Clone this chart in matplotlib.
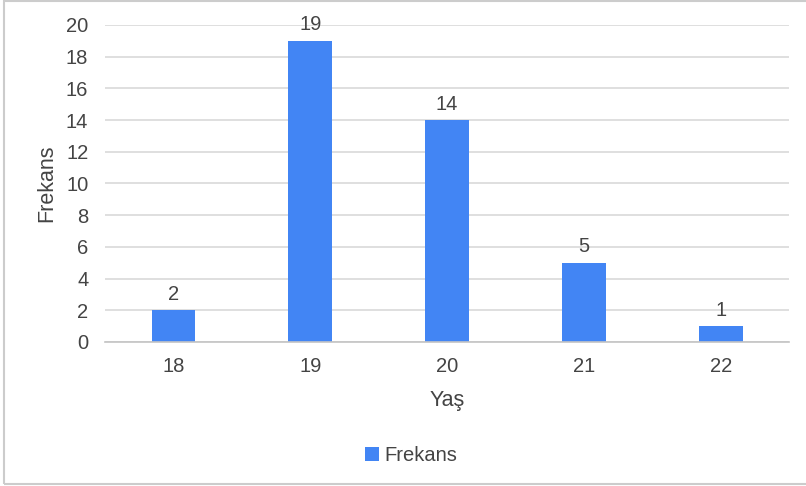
import matplotlib.pyplot as plt
from matplotlib.patches import Rectangle

plt.rcParams['font.family'] = ['Liberation Sans', 'DejaVu Sans']

ages = ['18', '19', '20', '21', '22']
counts = [2, 19, 14, 5, 1]
yticks = [0, 2, 4, 6, 8, 10, 12, 14, 16, 18, 20]

blue = '#4285F4'
text_col = '#444444'
fs = 14.5

fig = plt.figure(figsize=(8.06, 4.86), dpi=100)
ax = fig.add_axes([0.1303, 0.2963, 0.849, 0.6523])

x = range(len(ages))
bars = ax.bar(x, counts, width=0.32, color=blue, label='Frekans', zorder=3)
for i, v in enumerate(counts):
    ax.text(i, v + 0.4, str(v), ha='center', va='bottom', fontsize=fs, color=text_col)

ax.set_xlim(-0.5, len(ages) - 0.5)
ax.set_ylim(0, 20)
ax.set_xticks(list(x))
ax.set_xticklabels(ages)
ax.set_yticks(yticks)
ax.tick_params(axis='both', length=0, labelsize=fs, labelcolor=text_col)
ax.tick_params(axis='y', pad=12)
ax.tick_params(axis='x', pad=11)
ax.grid(axis='y', color='#d9d9d9', linewidth=1.2, zorder=0)
for s in ['top', 'right', 'left']:
    ax.spines[s].set_visible(False)
ax.spines['bottom'].set_color('#c4c4c4')
ax.spines['bottom'].set_linewidth(1.2)
ax.spines['bottom'].set_zorder(4)

ax.set_xlabel('Yaş', fontsize=15.5, color=text_col, labelpad=10)
ax.set_ylabel('Frekans', fontsize=15.5, color=text_col, labelpad=6)

fig.legend(handles=[bars], loc='center', bbox_to_anchor=(0.51, 0.063), frameon=False,
           fontsize=fs, handlelength=0.7, handleheight=0.7, handletextpad=0.3,
           labelcolor=text_col)

# light frame round the whole chart
fig.patches.append(Rectangle((0.005, 0.004), 1.0, 0.993, transform=fig.transFigure,
                             fill=False, edgecolor='#cccccc', linewidth=1.5))

fig.savefig('out.png', dpi=100)
